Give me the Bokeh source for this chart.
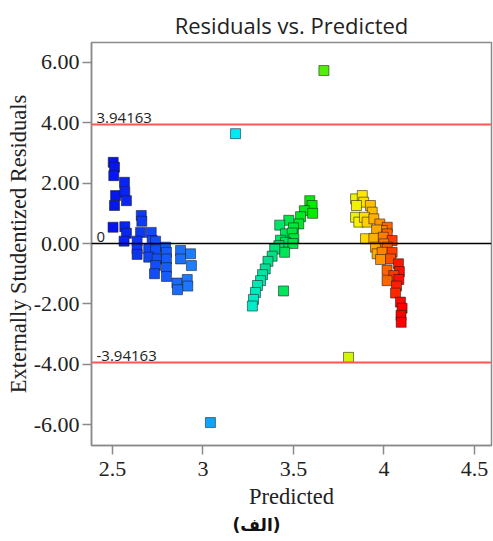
import numpy as np
from bokeh.plotting import figure
from bokeh.models import Span, Label, Title, FixedTicker, PrintfTickFormatter, Range1d, ColumnDataSource, LinearColorMapper
from bokeh.transform import transform
from bokeh.embed import file_html
from bokeh.resources import INLINE

# ---- data ----
blue_x = [2.504, 2.511, 2.507, 2.566, 2.517, 2.568, 2.577, 2.511, 2.659, 2.662,
          2.503, 2.568, 2.577, 2.655, 2.714, 2.564, 2.636, 2.719, 2.738, 2.636,
          2.700, 2.738, 2.793, 2.636, 2.700, 2.747, 2.798, 2.798, 2.876, 2.931,
          2.876, 2.936, 2.738, 2.798, 2.732, 2.798, 2.856, 2.913, 2.859, 2.916]
blue_y = [2.69, 2.53, 2.25, 2.03, 1.59, 1.70, 1.42, 1.26, 0.93, 0.74,
          0.54, 0.56, 0.34, 0.37, 0.37, 0.08, 0.08, 0.10, 0.08, -0.18,
          -0.18, -0.21, -0.12, -0.36, -0.45, -0.51, -0.29, -0.51, -0.23, -0.34,
          -0.51, -0.73, -0.73, -0.80, -1.00, -1.09, -1.31, -1.19, -1.53, -1.41]

green_x = [3.590, 3.603, 3.560, 3.606, 3.539, 3.529, 3.474, 3.500, 3.424, 3.456,
           3.493, 3.502, 3.428, 3.456, 3.497, 3.419, 3.451, 3.396, 3.382, 3.359,
           3.344, 3.329, 3.318, 3.301, 3.290, 3.279, 3.273, 3.445]
green_y = [1.42, 1.26, 1.09, 1.00, 0.89, 0.65, 0.77, 0.52, 0.61, 0.32,
           0.35, 0.16, 0.11, 0.04, 0.00, -0.07, -0.29, -0.18, -0.42, -0.59,
           -0.84, -1.03, -1.23, -1.39, -1.62, -1.85, -2.07, -1.57]

red_x = [3.843, 3.880, 3.888, 3.848, 3.925, 3.935, 3.843, 3.861, 3.892, 3.907,
         3.944, 3.977, 4.018, 3.990, 3.959, 4.018, 3.898, 3.944, 3.996, 4.045,
         3.999, 3.953, 4.018, 3.962, 3.990, 4.045, 3.981, 4.036, 4.080, 4.017,
         4.085, 4.054, 4.082, 4.017, 4.069, 4.064, 4.091, 4.100, 4.094, 4.095]
red_y = [1.48, 1.59, 1.37, 1.26, 1.26, 1.04, 0.87, 0.71, 0.87, 0.71,
         0.82, 0.65, 0.54, 0.43, 0.45, 0.32, 0.16, 0.17, 0.21, 0.10,
         -0.01, -0.12, -0.12, -0.34, -0.29, -0.29, -0.53, -0.51, -0.67, -0.88,
         -0.93, -1.06, -1.19, -1.23, -1.41, -1.64, -1.94, -2.14, -2.38, -2.61]

outlier_x = [3.041, 3.180, 3.668, 3.804]
outlier_y = [-5.93, 3.64, 5.73, -3.77]

limit = 3.94163
y_ticks = [-6, -4, -2, 0, 2, 4, 6]
x_ticks = [2.5, 3, 3.5, 4, 4.5]

# ---- colour ramp (style) ----
anchor_v = [2.50, 2.95, 3.10, 3.20, 3.35, 3.60, 3.75, 3.87, 3.97, 4.10]
anchor_c = [(5, 20, 240), (30, 130, 255), (0, 190, 255), (0, 245, 245), (0, 225, 150),
            (0, 235, 0), (175, 250, 0), (255, 240, 0), (255, 160, 0), (255, 0, 0)]
vals = np.linspace(2.5, 4.1, 256)
palette = []
for v in vals:
    rgb = [int(round(np.interp(v, anchor_v, [c[k] for c in anchor_c]))) for k in range(3)]
    palette.append("#%02x%02x%02x" % tuple(rgb))
mapper = LinearColorMapper(palette=palette, low=2.5, high=4.1)

xs = blue_x + green_x + red_x + outlier_x
ys = blue_y + green_y + red_y + outlier_y
src = ColumnDataSource(dict(x=xs, y=ys))

p = figure(width=493, height=541, output_backend="svg", toolbar_location=None,
           x_range=Range1d(2.384, 4.594), y_range=Range1d(-6.69, 6.66),
           min_border_left=91, min_border_right=2, min_border_top=42, min_border_bottom=96)

p.title.text = "Residuals vs. Predicted"
p.title.align = "center"
p.title.text_font = "Open Sans"
p.title.text_font_style = "normal"
p.title.text_font_size = "22px"
p.title.text_color = "#222222"
p.title.standoff = 6

p.xgrid.visible = False
p.ygrid.visible = False
p.outline_line_color = "#8a8a8a"
p.outline_line_width = 1.5

for ax in (p.xaxis[0], p.yaxis[0]):
    ax.axis_line_color = "#8a8a8a"
    ax.axis_line_width = 1.5
    ax.major_tick_line_color = "#8a8a8a"
    ax.major_tick_line_width = 1.5
    ax.minor_tick_line_color = None
    ax.major_tick_in = 0
    ax.major_label_text_font = "Liberation Serif"
    ax.major_label_text_font_size = "22px"
    ax.major_label_text_color = "#222222"
    ax.axis_label_text_font = "Liberation Serif"
    ax.axis_label_text_font_size = "22.5px"
    ax.axis_label_text_font_style = "normal"
    ax.axis_label_text_color = "#222222"

p.xaxis.ticker = FixedTicker(ticks=x_ticks)
p.xaxis.formatter = PrintfTickFormatter(format="%g")
p.xaxis.major_tick_out = 9
p.xaxis.major_label_standoff = 7
p.xaxis.axis_label = "Predicted"
p.xaxis.axis_label_standoff = 5

p.yaxis.ticker = FixedTicker(ticks=y_ticks)
p.yaxis.formatter = PrintfTickFormatter(format="%.2f")
p.yaxis.major_tick_out = 9
p.yaxis.major_label_standoff = 3
p.yaxis.axis_label = "Externally Studentized Residuals"
p.yaxis.axis_label_standoff = 0

p.scatter("x", "y", source=src, marker="square", size=10,
          fill_color=transform("x", mapper), line_color="#1a1a1a", line_alpha=0.55, line_width=1)

p.add_layout(Span(location=0, dimension="width", line_color="#000000", line_width=1.5))
p.add_layout(Span(location=limit, dimension="width", line_color="#ff5555", line_width=2))
p.add_layout(Span(location=-limit, dimension="width", line_color="#ff5555", line_width=2))

for yv, txt in [(limit, "3.94163"), (0, "0"), (-limit, "-3.94163")]:
    p.add_layout(Label(x=2.384, y=yv, text=txt, x_offset=5, y_offset=2,
                       text_font="Open Sans", text_font_size="15px", text_color="#222222",
                       text_baseline="bottom"))

p.add_layout(Title(text="(الف)", align="left", offset=141, standoff=3, text_font="DejaVu Sans",
                   text_font_size="17px", text_font_style="bold", text_color="#111111"), "below")

open("out.html", "w").write(file_html(p, INLINE))
